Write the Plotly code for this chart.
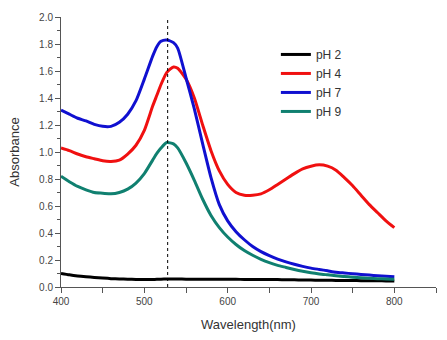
import plotly.graph_objects as go

wavelength = [400, 410, 420, 430, 440, 450, 460, 470, 480, 490, 500, 510, 515, 520, 527, 535, 540,
              550, 560, 570, 580, 590, 600, 610, 620, 630, 640, 650, 660, 670, 680, 690, 700,
              710, 720, 730, 740, 750, 760, 770, 780, 790, 800]

ph2 = [0.10, 0.09, 0.082, 0.076, 0.071, 0.066, 0.062, 0.060, 0.058, 0.056, 0.055, 0.056, 0.057, 0.058, 0.059, 0.059, 0.059,
       0.058, 0.058, 0.058, 0.058, 0.057, 0.057, 0.057, 0.056, 0.056, 0.056, 0.055, 0.055, 0.054, 0.053, 0.052, 0.051,
       0.050, 0.050, 0.049, 0.048, 0.048, 0.047, 0.046, 0.046, 0.045, 0.045]

ph4 = [1.03, 1.01, 0.985, 0.965, 0.95, 0.935, 0.93, 0.94, 0.985, 1.05, 1.16, 1.34, 1.42, 1.50, 1.59, 1.63, 1.62,
       1.54, 1.40, 1.20, 1.01, 0.86, 0.76, 0.70, 0.68, 0.68, 0.69, 0.72, 0.76, 0.80, 0.84, 0.875, 0.895,
       0.905, 0.895, 0.865, 0.81, 0.75, 0.68, 0.61, 0.55, 0.49, 0.44]

ph7 = [1.31, 1.28, 1.25, 1.23, 1.205, 1.19, 1.19, 1.22, 1.28, 1.38, 1.54, 1.71, 1.78, 1.82, 1.83, 1.81, 1.77,
       1.55, 1.32, 1.06, 0.81, 0.61, 0.49, 0.41, 0.35, 0.30, 0.262, 0.232, 0.207, 0.186, 0.168, 0.153, 0.14,
       0.13, 0.12, 0.11, 0.104, 0.098, 0.093, 0.088, 0.084, 0.08, 0.076]

ph9 = [0.82, 0.78, 0.745, 0.72, 0.70, 0.695, 0.69, 0.70, 0.725, 0.77, 0.84, 0.94, 0.99, 1.03, 1.07, 1.06, 1.03,
       0.92, 0.79, 0.65, 0.53, 0.44, 0.37, 0.315, 0.27, 0.235, 0.205, 0.18, 0.16, 0.145, 0.13, 0.117, 0.106,
       0.097, 0.09, 0.083, 0.078, 0.073, 0.068, 0.065, 0.062, 0.06, 0.058]

series_names = ["pH 2", "pH 4", "pH 7", "pH 9"]
series_colors = ["#000000", "#f01010", "#1010d0", "#108070"]
peak_marker = 528

fig = go.Figure()
for name, ys, col in zip(series_names, [ph2, ph4, ph7, ph9], series_colors):
    fig.add_trace(go.Scatter(x=wavelength, y=ys, mode="lines", name=name,
                             line=dict(color=col, width=3, shape="spline", smoothing=0.6)))

fig.add_shape(type="line", x0=peak_marker, x1=peak_marker, xref="x", yref="paper", y0=0, y1=1,
              line=dict(color="black", width=1, dash="dot"))

axis_font = dict(family="Liberation Sans, Arial", size=10, color="#444444")
fig.update_layout(
    width=447, height=340,
    margin=dict(l=61, r=11, t=13, b=53),
    paper_bgcolor="white", plot_bgcolor="white",
    font=dict(family="Liberation Sans, Arial", color="#333333"),
    showlegend=True,
    legend=dict(x=0.573, y=0.915, xanchor="left", yanchor="top",
                font=dict(size=12, color="#333333"), bgcolor="rgba(0,0,0,0)",
                tracegroupgap=0, itemwidth=30),
    xaxis=dict(range=[400, 850], dtick=100, tick0=400, ticks="outside", ticklen=5,
               tickcolor="#555555", showline=True, linecolor="#555555", linewidth=1,
               showgrid=False, zeroline=False, tickfont=axis_font,
               minor=dict(dtick=50, ticks="outside", ticklen=5, tickcolor="#555555"),
               title=dict(text="Wavelength(nm)", font=dict(size=13, color="#333333"), standoff=13)),
    yaxis=dict(range=[0, 2.0], dtick=0.2, tick0=0, ticks="outside", ticklen=5,
               tickcolor="#555555", showline=True, linecolor="#555555", linewidth=1,
               showgrid=False, zeroline=False, tickfont=axis_font, tickformat=".1f",
               minor=dict(dtick=0.1, ticks="outside", ticklen=3, tickcolor="#555555"),
               title=dict(text="Absorbance", font=dict(size=13, color="#333333"), standoff=16)),
)

fig.write_html("out.html")
